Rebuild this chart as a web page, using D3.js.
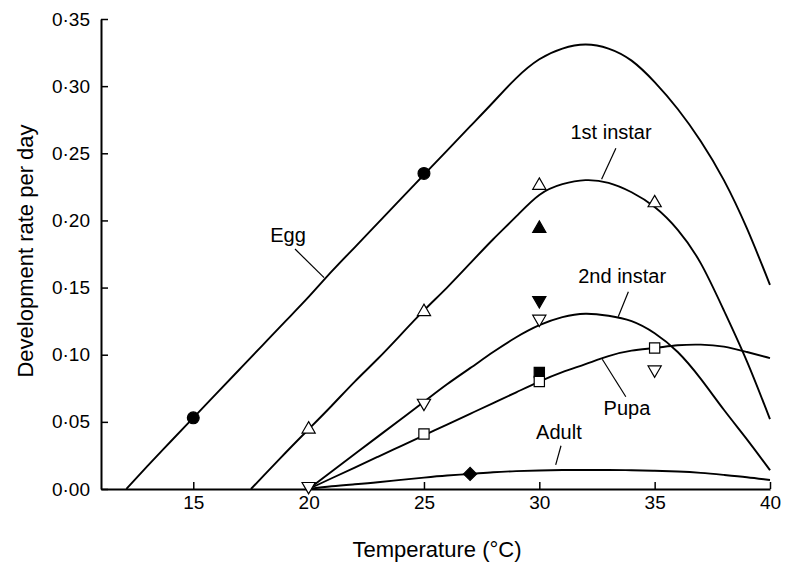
<!DOCTYPE html>
<html>
<head>
<meta charset="utf-8">
<script src="https://cdn.jsdelivr.net/npm/d3@7"></script>
<style>
  html, body { margin: 0; padding: 0; background: #fff; }
  svg { display: block; font-family: "Liberation Sans", Arial, Helvetica, sans-serif; }
</style>
</head>
<body>
<svg id="chart" width="785" height="566"></svg>
<script>
// ---------- data ----------
const xTicks = [15, 20, 25, 30, 35, 40];
const xTickLabels = ["15", "20", "25", "30", "35", "40"];
const yTicks = [0, 0.05, 0.10, 0.15, 0.20, 0.25, 0.30, 0.35];
const yTickLabels = ["0·00", "0·05", "0·10", "0·15", "0·20", "0·25", "0·30", "0·35"];

// fitted curves (sampled)
const eggT   = [12.1, 13, 14, 15, 16, 17, 18, 19, 20, 21, 22, 23, 24, 25, 26, 27, 28, 29, 30, 31, 32, 33, 34, 35, 36, 37, 38, 39, 40];
const eggR   = [0, 0.0168, 0.035, 0.053, 0.071, 0.089, 0.107, 0.125, 0.143, 0.162, 0.180, 0.198, 0.216, 0.234, 0.252, 0.270, 0.288, 0.306, 0.320, 0.328, 0.331, 0.328, 0.319, 0.303, 0.283, 0.259, 0.230, 0.194, 0.152];
const inst1T = [17.5, 18, 19, 20, 21, 22, 23, 24, 25, 26, 27, 28, 29, 30, 31, 32, 33, 34, 35, 36, 37, 38, 39, 40];
const inst1R = [0, 0.009, 0.027, 0.0445, 0.062, 0.080, 0.097, 0.115, 0.133, 0.150, 0.168, 0.186, 0.203, 0.219, 0.227, 0.230, 0.228, 0.221, 0.210, 0.193, 0.168, 0.133, 0.095, 0.052];
const inst2T = [20, 21, 22, 23, 24, 25, 26, 27, 28, 29, 30, 31, 32, 33, 34, 35, 36, 37, 38, 39, 40];
const inst2R = [0, 0.013, 0.026, 0.039, 0.052, 0.065, 0.078, 0.090, 0.102, 0.113, 0.122, 0.128, 0.1305, 0.129, 0.125, 0.116, 0.102, 0.082, 0.059, 0.037, 0.014];
const pupaT  = [20, 21, 22, 23, 24, 25, 26, 27, 28, 29, 30, 31, 32, 33, 34, 35, 36, 37, 38, 39, 40];
const pupaR  = [0, 0.008, 0.016, 0.024, 0.032, 0.040, 0.048, 0.056, 0.064, 0.072, 0.080, 0.087, 0.093, 0.099, 0.103, 0.105, 0.107, 0.1075, 0.106, 0.102, 0.0975];
const adultT = [20, 21, 22, 23, 24, 25, 26, 27, 28, 29, 30, 31, 32, 33, 34, 35, 36, 37, 38, 39, 40];
const adultR = [0, 0.002, 0.0035, 0.005, 0.0068, 0.0085, 0.010, 0.0112, 0.0125, 0.0133, 0.0138, 0.0141, 0.0142, 0.0142, 0.014, 0.0136, 0.013, 0.012, 0.0105, 0.0088, 0.0067];

// observed points
const eggPtT = [15, 25];            const eggPtR = [0.053, 0.235];
const inst1OpenT = [20, 25, 30, 35]; const inst1OpenR = [0.0445, 0.132, 0.226, 0.213];
const inst1FillT = [30];            const inst1FillR = [0.194];
const inst2OpenT = [20, 25, 30, 35]; const inst2OpenR = [0.002, 0.064, 0.1266, 0.0888];
const inst2FillT = [30];            const inst2FillR = [0.1405];
const pupaOpenT = [25, 30, 35];     const pupaOpenR = [0.041, 0.080, 0.105];
const pupaFillT = [30];             const pupaFillR = [0.0868];
const adultPtT = [27];              const adultPtR = [0.0112];

const curveNames = ["Egg", "1st instar", "2nd instar", "Pupa", "Adult"];
// label anchors and leader lines (data units)
const labelT = [19.11, 33.11, 33.59, 33.80, 30.85];
const labelR = [0.1839, 0.2606, 0.1536, 0.0551, 0.0370];
const leadFromT = [19.41, 33.32, 33.86, 33.75, 30.94];
const leadFromR = [0.1787, 0.2537, 0.1469, 0.0687, 0.0322];
const leadToT = [20.67, 32.70, 33.42, 32.73, 30.71];
const leadToR = [0.1574, 0.2306, 0.1283, 0.0966, 0.0179];

// ---------- layout ----------
const svg = d3.select("#chart");
const x = d3.scaleLinear().domain([11, 40]).range([101, 770]);
const y = d3.scaleLinear().domain([0, 0.35]).range([489, 19]);
const black = "#000";
const FONT = "Liberation Sans, Arial, sans-serif";

// curves
const line = d3.line().x(d => x(d[0])).y(d => y(d[1])).curve(d3.curveNatural);
const curves = [[eggT, eggR], [inst1T, inst1R], [inst2T, inst2R], [pupaT, pupaR], [adultT, adultR]];
svg.append("g").selectAll("path").data(curves).join("path")
  .attr("d", c => line(d3.zip(c[0], c[1])))
  .attr("fill", "none").attr("stroke", black).attr("stroke-width", 1.9)
  .attr("stroke-linejoin", "round");

// axes
const xAxis = d3.axisBottom(x).tickValues(xTicks).tickFormat((d, i) => xTickLabels[i])
  .tickSizeInner(-7).tickSizeOuter(0).tickPadding(7);
const gx = svg.append("g").attr("transform", "translate(0,489)").call(xAxis);
gx.select(".domain").attr("stroke-width", 2);
gx.selectAll(".tick line").attr("stroke-width", 1.5);
gx.selectAll(".tick text").attr("font-size", 19).attr("font-family", FONT).attr("fill", black);

const yAxis = d3.axisLeft(y).tickValues(yTicks).tickFormat((d, i) => yTickLabels[i])
  .tickSizeInner(-7).tickSizeOuter(0).tickPadding(11);
const gy = svg.append("g").attr("transform", "translate(101,0)").call(yAxis);
gy.select(".domain").attr("stroke-width", 2);
gy.selectAll(".tick line").attr("stroke-width", 1.5);
gy.selectAll(".tick text").attr("font-size", 19).attr("font-family", FONT).attr("fill", black);

// axis titles
svg.append("text").attr("x", 437).attr("y", 557).attr("text-anchor", "middle")
  .attr("font-size", 22).attr("fill", black).text("Temperature (°C)");
svg.append("text").attr("transform", "translate(33,251) rotate(-90)").attr("text-anchor", "middle")
  .attr("font-size", 22).attr("fill", black).text("Development rate per day");

// markers
function drawMarkers(ts, rs, type, size, filled, rotate) {
  const sym = d3.symbol().type(type).size(size);
  svg.append("g").selectAll("path").data(d3.zip(ts, rs)).join("path")
    .attr("d", sym)
    .attr("transform", d => `translate(${x(d[0])},${y(d[1])}) rotate(${rotate})`)
    .attr("fill", filled ? black : "#fff")
    .attr("stroke", black).attr("stroke-width", 1.2);
}
drawMarkers(eggPtT, eggPtR, d3.symbolCircle, 110, true, 0);
drawMarkers(inst1OpenT, inst1OpenR, d3.symbolTriangle, 75, false, 0);
drawMarkers(inst1FillT, inst1FillR, d3.symbolTriangle, 75, true, 0);
drawMarkers(inst2OpenT, inst2OpenR, d3.symbolTriangle, 75, false, 180);
drawMarkers(inst2FillT, inst2FillR, d3.symbolTriangle, 75, true, 180);
drawMarkers(pupaFillT, pupaFillR, d3.symbolSquare, 105, true, 0);
drawMarkers(pupaOpenT, pupaOpenR, d3.symbolSquare, 105, false, 0);
drawMarkers(adultPtT, adultPtR, d3.symbolSquare, 85, true, 45);

// curve labels with leader lines
const lab = svg.append("g");
curveNames.forEach((n, i) => {
  lab.append("line")
    .attr("x1", x(leadFromT[i])).attr("y1", y(leadFromR[i]))
    .attr("x2", x(leadToT[i])).attr("y2", y(leadToR[i]))
    .attr("stroke", black).attr("stroke-width", 1.2);
  lab.append("text")
    .attr("x", x(labelT[i])).attr("y", y(labelR[i]))
    .attr("text-anchor", "middle").attr("font-size", 20).attr("fill", black).text(n);
});
</script>
</body>
</html>
